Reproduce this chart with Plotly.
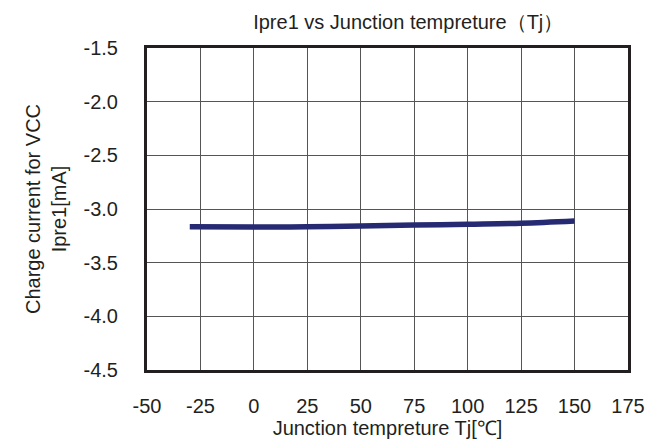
import plotly.graph_objects as go

tj = [-30, 0, 25, 50, 75, 100, 125, 150]
ipre1 = [-3.165, -3.168, -3.166, -3.158, -3.150, -3.142, -3.133, -3.112]

x_ticks = [-50, -25, 0, 25, 50, 75, 100, 125, 150, 175]
y_ticks = [-1.5, -2.0, -2.5, -3.0, -3.5, -4.0, -4.5]

FONT = "Liberation Sans, Arial, sans-serif"
INK = "#231f20"

fig = go.Figure()
fig.add_trace(go.Scatter(
    x=tj, y=ipre1, mode="lines",
    line=dict(color="#262a73", width=5.5, shape="spline"),
    showlegend=False,
))

fig.update_layout(
    width=648, height=446,
    margin=dict(l=147, r=20, t=48, b=76),
    paper_bgcolor="white", plot_bgcolor="white",
    font=dict(family=FONT, color=INK, size=20),
    title=dict(text="Ipre1 vs Junction tempreture（Tj）", x=0.63, xanchor="center",
               y=0.95, yanchor="middle", font=dict(size=20, family=FONT, color=INK)),
)
fig.update_xaxes(
    range=[-50, 175], tickvals=x_ticks, ticktext=[str(v) for v in x_ticks],
    showgrid=True, gridcolor="#555555", gridwidth=1,
    showline=True, linecolor=INK, linewidth=3, mirror=True,
    zeroline=False, ticks="", ticklabelstandoff=16, automargin=False,
    title=dict(text="Junction tempreture Tj[℃]", standoff=0, font=dict(size=20)),
)
fig.update_yaxes(
    range=[-4.5, -1.5], tickvals=y_ticks, ticktext=[f"{v:.1f}" for v in y_ticks],
    showgrid=True, gridcolor="#555555", gridwidth=1,
    showline=True, linecolor=INK, linewidth=3, mirror=True,
    zeroline=False, ticks="", ticklabelstandoff=22, automargin=False,
    title=dict(text="Charge current for VCC<br>Ipre1[mA]", standoff=12, font=dict(size=20)),
)

fig.write_html("out.html", config={"displayModeBar": False},
               post_script="document.body.style.margin='0';")
